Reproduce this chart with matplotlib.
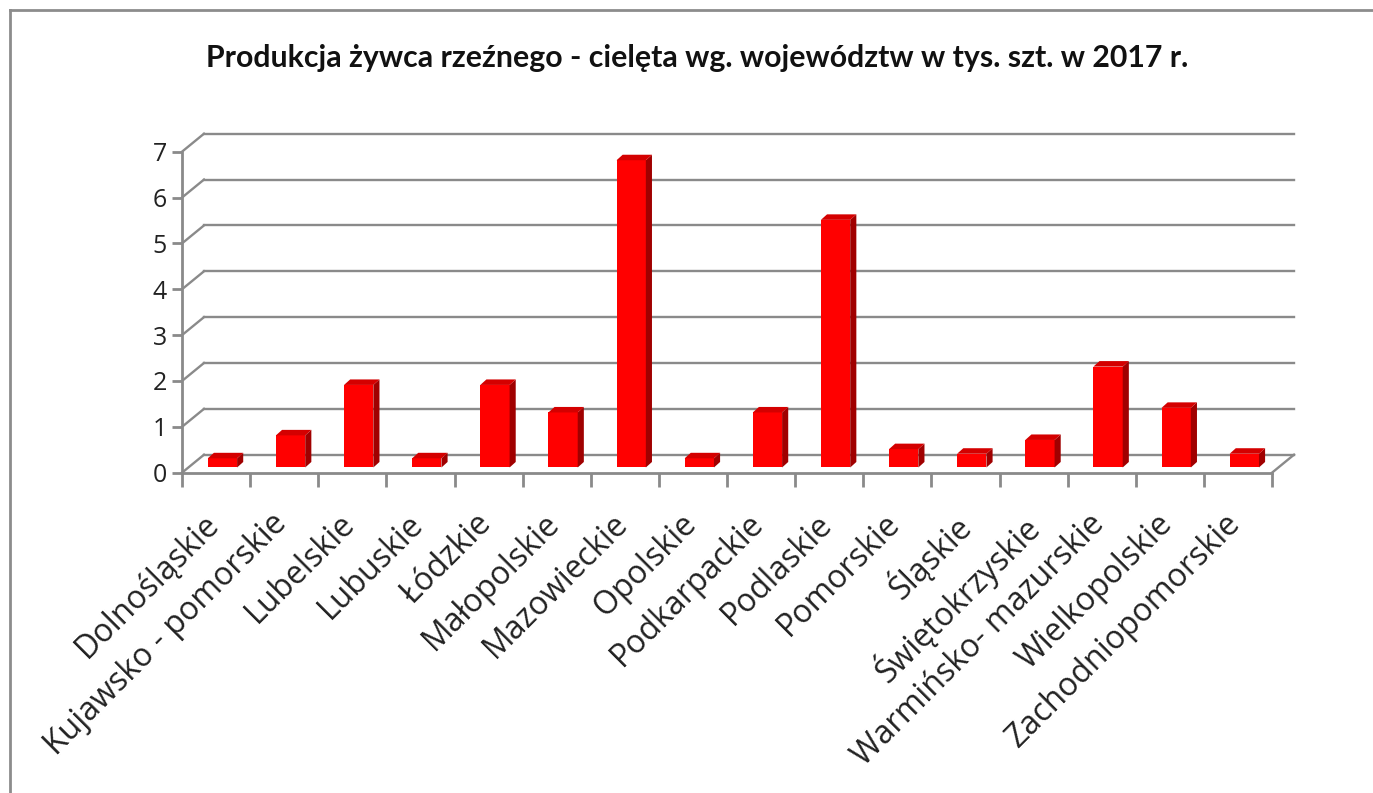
import numpy as np
import matplotlib
matplotlib.use("Agg")
import matplotlib.pyplot as plt
from matplotlib.patches import Polygon

# dane
wojewodztwa = ['Dolnośląskie', 'Kujawsko - pomorskie', 'Lubelskie', 'Lubuskie',
               'Łódzkie', 'Małopolskie', 'Mazowieckie', 'Opolskie', 'Podkarpackie',
               'Podlaskie', 'Pomorskie', 'Śląskie', 'Świętokrzyskie',
               'Warmińsko- mazurskie', 'Wielkopolskie', 'Zachodniopomorskie']
cieleta = [0.2, 0.7, 1.8, 0.2, 1.8, 1.2, 6.7, 0.2, 1.2, 5.4, 0.4, 0.3, 0.6, 2.2, 1.3, 0.3]
y_ticks = [0, 1, 2, 3, 4, 5, 6, 7]
tytul = 'Produkcja żywca rzeźnego - cielęta wg. województw w tys. szt. w 2017 r.'

W, H = 1373, 793
fig = plt.figure(figsize=(W / 100, H / 100), dpi=100)
fig.patch.set_facecolor('white')

# ramka wykresu (góra i lewa krawędź)
ramka = fig.add_axes([0, 0, 1, 1])
ramka.set_xlim(0, W)
ramka.set_ylim(H, 0)
ramka.axis('off')
ramka.plot([10, W], [10, 10], color='#8c8c8c', lw=2)
ramka.plot([10, 10], [10, H], color='#8c8c8c', lw=2)

# obszar wykresu (przednia krawędź osi)
x0, x1, y0, y7 = 182, 1272, 472.7, 151.7
ax = fig.add_axes([x0 / W, (H - y0) / H, (x1 - x0) / W, (y0 - y7) / H])
n = len(wojewodztwa)
ax.set_xlim(-0.5, n - 0.5)
ax.set_ylim(0, 7)

# przesunięcie głębi (3D)
dx = 22 / ((x1 - x0) / n)
dy = 18 / ((y0 - y7) / 7)
szary = '#8a8a8a'

for v in y_ticks:
    ax.plot([-0.5, -0.5 + dx], [v, v + dy], color=szary, lw=1.7, clip_on=False)
    ax.plot([-0.5 + dx, n - 0.5 + dx], [v + dy, v + dy], color=szary, lw=1.7, clip_on=False)
ax.plot([n - 0.5, n - 0.5 + dx], [0, dy], color=szary, lw=1.7, clip_on=False)

# słupki
f = 0.29
szer = 0.43
gx, gy = 0.09, 0.12
xs = np.arange(n) + f * dx
ax.bar(xs, cieleta, width=szer, bottom=f * dy, color='#ff0000', zorder=3, clip_on=False)
for xc, v in zip(xs, cieleta):
    l, r = xc - szer / 2, xc + szer / 2
    b, t = f * dy, f * dy + v
    bok = Polygon([(r, b), (r + gx, b + gy), (r + gx, t + gy), (r, t)],
                  closed=True, facecolor='#a00000', edgecolor='none', zorder=3, clip_on=False)
    gora = Polygon([(l, t), (l + gx, t + gy), (r + gx, t + gy), (r, t)],
                   closed=True, facecolor='#d40000', edgecolor='none', zorder=3, clip_on=False)
    ax.add_patch(bok)
    ax.add_patch(gora)

# osie
for s in ['top', 'right']:
    ax.spines[s].set_visible(False)
for s in ['left', 'bottom']:
    ax.spines[s].set_color(szary)
    ax.spines[s].set_linewidth(2)
ax.set_yticks(y_ticks)
ax.set_yticklabels([str(v) for v in y_ticks], fontsize=18, family='Open Sans', color='#222222')
ax.tick_params(axis='y', direction='out', length=7, width=2, color=szary, pad=4)
ax.set_xticks(np.arange(n + 1) - 0.5)
ax.set_xticklabels([])
ax.tick_params(axis='x', which='major', direction='out', length=10, width=2, color=szary)
ax.set_xticks(np.arange(n) - 0.2, minor=True)
ax.set_xticklabels(wojewodztwa, minor=True, rotation=45, ha='right', va='top',
                   rotation_mode='anchor', fontsize=23, family='Open Sans', color='#222222')
ax.tick_params(axis='x', which='minor', length=0, pad=25)

fig.text(697 / W, 1 - 58 / H, tytul, ha='center', va='center', fontsize=21.8,
         fontweight='bold', family=['Lato', 'DejaVu Sans'], color='#111111')

fig.savefig('out.png', dpi=100)
